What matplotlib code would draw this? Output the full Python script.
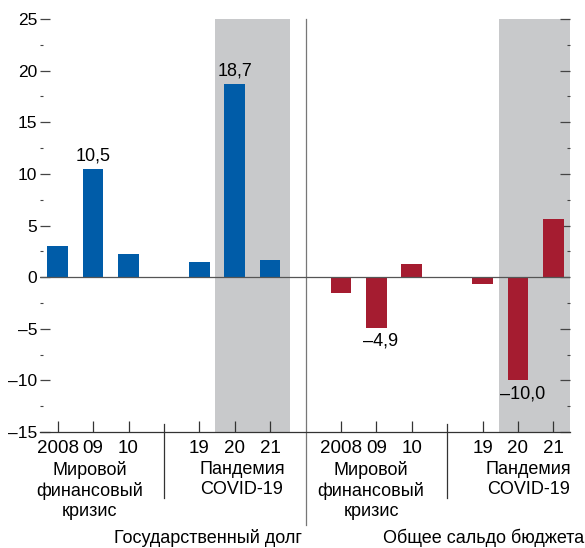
import matplotlib

matplotlib.use("Agg")
import matplotlib.pyplot as plt
from matplotlib.ticker import MultipleLocator, FixedLocator
import matplotlib.transforms as mtransforms

plt.rcParams["font.family"] = ["Liberation Sans", "DejaVu Sans"]
plt.rcParams["font.size"] = 13

# change over the period, percentage points of GDP
years = ["2008", "09", "10", "19", "20", "21"]
debt = [3.0, 10.5, 2.2, 1.5, 18.7, 1.7]          # государственный долг
balance = [-1.5, -4.9, 1.3, -0.7, -10.0, 5.6]    # общее сальдо бюджета
labelled = {"debt": [1, 4], "balance": [1, 4]}

crisis_label = "Мировой\nфинансовый\nкризис"
covid_label = "Пандемия\nCOVID-19"
panel_titles = ["Государственный долг", "Общее сальдо бюджета"]

BLUE = "#005ca8"
RED = "#a51c30"
SHADE = "#c8c9cb"

debt_x = [0, 1, 2, 4, 5, 6]
bal_x = [8, 9, 10, 12, 13, 14]


def fmt(v):
    return f"{v:.1f}".replace(".", ",").replace("-", "\u2013")


fig = plt.figure(figsize=(5.85, 5.48), dpi=100)
ax = fig.add_axes([0.0684, 0.2117, 0.906, 0.7536])
ax.set_xlim(-0.5, 14.47)
ax.set_ylim(-15, 25)

# shaded COVID years
ax.axvspan(4.45, 6.55, color=SHADE, lw=0, zorder=0)
ax.axvspan(12.45, 14.47, color=SHADE, lw=0, zorder=0)

ax.bar(debt_x, debt, width=0.58, color=BLUE, zorder=2)
ax.bar(bal_x, balance, width=0.58, color=RED, zorder=2)
ax.axhline(0, color="#555555", lw=0.9, zorder=3)

for i in labelled["debt"]:
    ax.text(debt_x[i], debt[i] + 0.4, fmt(debt[i]), ha="center", va="bottom")
for i in labelled["balance"]:
    ax.text(bal_x[i] + 0.12, balance[i] - 0.5, fmt(balance[i]), ha="center", va="top")

for side in ["top", "right", "left"]:
    ax.spines[side].set_visible(False)
ax.spines["bottom"].set_color("#333333")
ax.spines["bottom"].set_linewidth(0.9)

# y axis: labels on the left, ticks on both sides
ax.yaxis.set_major_locator(MultipleLocator(5))
ax.yaxis.set_minor_locator(MultipleLocator(2.5))
ax.yaxis.set_major_formatter(lambda v, p: f"{v:.0f}".replace("-", "\u2013"))
ax.tick_params(axis="y", which="major", direction="in", length=7, width=0.9,
               color="#444444", pad=2, left=True, right=True, labelsize=12.5)
ax.tick_params(axis="y", which="minor", direction="in", length=2.5, width=0.8,
               color="#444444", left=True, right=True)

ax.xaxis.set_major_locator(FixedLocator(debt_x + bal_x))
ax.set_xticklabels(years + years)
ax.tick_params(axis="x", which="major", direction="in", length=8, width=0.9,
               color="#333333", pad=6, labelsize=13.5)

# separators between groups and between the two panels
trans = mtransforms.blended_transform_factory(ax.transData, ax.transAxes)
for xs in [3, 11]:
    ax.plot([xs, xs], [0.02, -0.16], transform=trans, color="#333333",
            lw=0.9, clip_on=False)
ax.plot([7, 7], [1.0, -0.225], transform=trans, color="#777777", lw=0.9,
        clip_on=False)

for xc, txt in [(0.9, crisis_label), (5.2, covid_label),
                (8.85, crisis_label), (13.3, covid_label)]:
    ax.text(xc, -0.071, txt, transform=trans, ha="center", va="top",
            linespacing=1.22)

fig.text(302 / 585, 1 - 538 / 548, panel_titles[0], ha="right", va="center")
fig.text(584 / 585, 1 - 538 / 548, panel_titles[1], ha="right", va="center")

fig.savefig("out.png", dpi=100)
plt.close(fig)
